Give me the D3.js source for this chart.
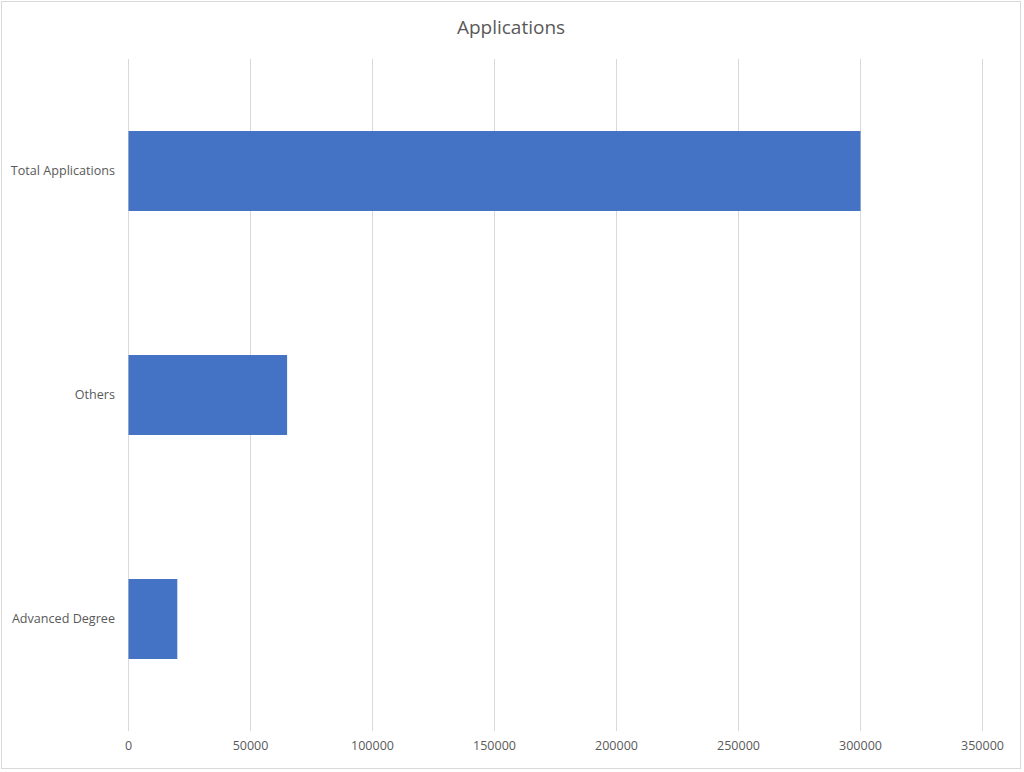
<!DOCTYPE html>
<html>
<head>
<meta charset="utf-8">
<script src="https://cdn.jsdelivr.net/npm/d3@7"></script>
<style>
  html, body { margin: 0; padding: 0; background: #fff; }
  svg { display: block; font-family: "Open Sans", "Noto Sans", sans-serif; }
</style>
</head>
<body>
<svg width="1024" height="772"></svg>
<script>
const width = 1024, height = 772;
const svg = d3.select("svg");

// Data
const categories = ["Total Applications", "Others", "Advanced Degree"];
const values = [300000, 65000, 20000];
const xTicks = [0, 50000, 100000, 150000, 200000, 250000, 300000, 350000];

const margin = { top: 59, right: 42, bottom: 41, left: 128 };

// Chart border
svg.append("rect")
  .attr("x", 1.5).attr("y", 1.5)
  .attr("width", 1019).attr("height", 767)
  .attr("fill", "#fff")
  .attr("stroke", "#d9d9d9");

// Scales
const x = d3.scaleLinear()
  .domain([0, 350000])
  .range([margin.left, width - margin.right]);

const y = d3.scaleBand()
  .domain(categories)
  .range([margin.top, height - margin.bottom])
  .paddingInner(0.643)
  .paddingOuter(0.3215);

// Gridlines
svg.append("g")
  .selectAll("line")
  .data(xTicks)
  .join("line")
  .attr("x1", d => Math.round(x(d)) + 0.5)
  .attr("x2", d => Math.round(x(d)) + 0.5)
  .attr("y1", margin.top)
  .attr("y2", height - margin.bottom)
  .attr("stroke", "#d9d9d9");

// Bars
svg.append("g")
  .selectAll("rect")
  .data(categories)
  .join("rect")
  .attr("x", x(0) + 0.5)
  .attr("y", d => y(d))
  .attr("width", (d, i) => x(values[i]) - x(0))
  .attr("height", y.bandwidth())
  .attr("fill", "#4472c4");

// X axis labels
const xAxis = d3.axisBottom(x).tickValues(xTicks).tickSize(0).tickPadding(10)
  .tickFormat(d3.format("d"));
svg.append("g")
  .attr("transform", `translate(0,${height - margin.bottom})`)
  .call(xAxis)
  .call(g => g.select(".domain").remove())
  .call(g => g.selectAll("text")
    .attr("fill", "#595959")
    .attr("font-size", 12.5)
    .attr("font-family", "'Open Sans', sans-serif"));

// Y axis labels
const yAxis = d3.axisLeft(y).tickSize(0).tickPadding(13);
svg.append("g")
  .attr("transform", `translate(${margin.left},0)`)
  .call(yAxis)
  .call(g => g.select(".domain").remove())
  .call(g => g.selectAll("text")
    .attr("fill", "#595959")
    .attr("font-size", 12.6)
    .attr("font-family", "'Open Sans', sans-serif"));

// Title
svg.append("text")
  .attr("x", 511)
  .attr("y", 34)
  .attr("text-anchor", "middle")
  .attr("fill", "#595959")
  .attr("font-size", 19)
  .text("Applications");
</script>
</body>
</html>
